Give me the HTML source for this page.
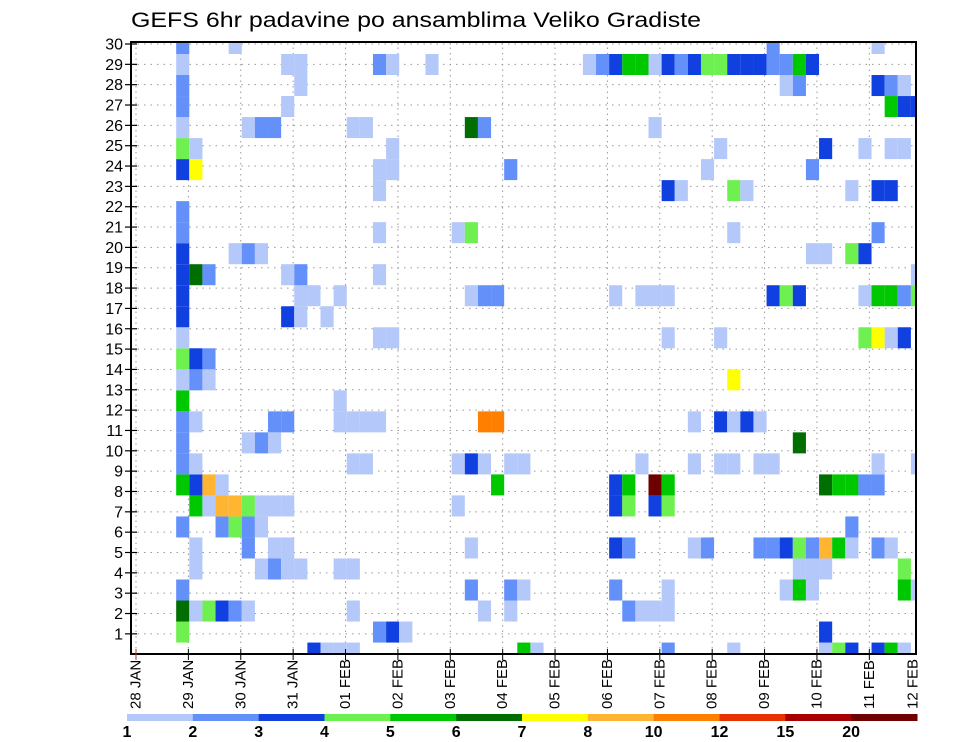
<!DOCTYPE html>
<html><head><meta charset="utf-8"><style>
html,body{margin:0;padding:0;background:#fff;}
svg{display:block;font-family:"Liberation Sans",sans-serif;}
</style></head><body>
<svg id="chart" width="960" height="742" viewBox="0 0 960 742" xmlns="http://www.w3.org/2000/svg">
<text x="131" y="27" font-size="21" textLength="570" lengthAdjust="spacingAndGlyphs">GEFS 6hr padavine po ansamblima Veliko Gradiste</text>
<g id="grid"></g>
<g id="cells"></g>
<rect x="131" y="42" width="785" height="612" fill="none" stroke="#000" stroke-width="2"/>
<g id="yaxis"></g>
<g id="xaxis"></g>
<g id="cbar"></g>
</svg>
<script>
// ---- data ----
const dayLabels = ["28 JAN","29 JAN","30 JAN","31 JAN","01 FEB","02 FEB","03 FEB","04 FEB","05 FEB","06 FEB","07 FEB","08 FEB","09 FEB","10 FEB","11 FEB"];
const lastLabel = "12 FEB";
const memberLabels = [1,2,3,4,5,6,7,8,9,10,11,12,13,14,15,16,17,18,19,20,21,22,23,24,25,26,27,28,29,30];
const levels = [1,2,3,4,5,6,7,8,10,12,15,20];
const levelColors = ["#b4c8fa","#6490fa","#1040e0","#6ef050","#00c800","#006e00","#ffff00","#ffb432","#ff8000","#e83000","#a80000","#6e0000"];
const codeValues = {a:1.5,b:2.5,c:3.5,d:4.5,e:5.5,f:6.5,g:7.5,h:9,i:11,j:25};
// member -> "column+code" entries (column = 6-hour step from 28 JAN 00Z)
const precip = {
30:"3b 7a 48b 56a",
29:"3a 11a 12a 18b 19a 22a 34a 35b 36c 37e 38e 39a 40c 41b 42c 43d 44d 45c 46c 47c 48b 49b 50e 51c",
28:"3b 12a 49a 50b 56c 57b 58a",
27:"3b 11a 57e 58c 59c",
26:"3a 8a 9b 10b 16a 17a 25f 26b 39a",
25:"3d 4a 19a 44a 52c 55a 57a 58a",
24:"3c 4g 18a 19a 28b 43a 51b",
23:"18a 40c 41a 45d 46a 54a 56c 57c",
22:"3b",
21:"3b 18a 24a 25d 45a 56b",
20:"3c 7a 8b 9a 51a 52a 54d 55c",
19:"3c 4f 5b 11a 12b 18a 59a",
18:"3c 12a 13a 15a 25a 26b 27b 36a 38a 39a 40a 48c 49d 50c 55a 56e 57e 58b 59d",
17:"3c 11c 12a 14a",
16:"3a 18a 19a 40a 44a 55d 56g 57a 58c",
15:"3d 4c 5b",
14:"3a 4b 5a 45g",
13:"3e 15a",
12:"3b 4a 10b 11b 15a 16a 17a 18a 26i 27i 42a 44c 45a 46c 47a",
11:"3b 8a 9b 10a 50f",
10:"3b 4a 16a 17a 24a 25c 26a 28a 29a 38a 42a 44a 45a 47a 48a 56a 59a",
9:"3e 4c 5h 6a 27e 36c 37e 39j 40e 52f 53e 54e 55b 56b",
8:"4e 5a 6h 7h 8d 9a 10a 11a 24a 36c 37d 39c 40d",
7:"3b 6b 7d 8b 9a 54b",
6:"4a 8b 10a 11a 25a 36c 37b 42a 43b 47b 48b 49c 50d 51b 52h 53e 54a 56b 57a",
5:"4a 9a 10b 11a 12a 15a 16a 50a 51a 52a 58d",
4:"3b 25b 28b 29a 36b 40a 49a 50e 51a 58e 59a",
3:"3f 4a 5d 6c 7b 8a 16a 26a 28a 37b 38a 39a 40a",
2:"3d 18b 19c 20a 52c",
1:"13c 14a 15a 16a 29e 30a 40b 45a 52a 53d 54c 56c 57e 58a"
};
// ---- layout ----
const NS="http://www.w3.org/2000/svg";
const PL=131, PR=916, PT=42, PB=654;
function xDay(d){return 136 + d*52.38;}
function xCol(c){return 189.3 + (c-4)*13.12;}
const colW=13.12, rowH=21.02;
function yCellTop(m){return 54 + (29-m)*rowH;}
function yLabel(m){return 44 + (30-m)*20.34;}
function colorFor(v){let k=0;for(let i=0;i<levels.length;i++){if(v>=levels[i])k=i;}return levelColors[k];}
function mk(tag,attrs,parent){const e=document.createElementNS(NS,tag);for(const k in attrs)e.setAttribute(k,attrs[k]);parent.appendChild(e);return e;}

const grid=document.getElementById('grid');
memberLabels.forEach(m=>{
  const l=mk('line',{x1:PL,x2:PR,y1:yLabel(m),y2:yLabel(m),stroke:'#999','stroke-width':1,'stroke-dasharray':'1.5 5'},grid);
  
  
});
dayLabels.forEach((d,i)=>{
  const l=mk('line',{x1:xDay(i),x2:xDay(i),y1:PT,y2:PB,stroke:'#999','stroke-width':1,'stroke-dasharray':'1.5 4'},grid);
  
  
});

const cells=document.getElementById('cells');
Object.keys(precip).forEach(mk_=>{
  const m=+mk_;
  precip[mk_].split(' ').forEach(tok=>{
    const c=parseInt(tok,10), code=tok.replace(/[0-9]/g,'');
    const v=codeValues[code];
    let x0=xCol(c), x1=x0+colW, y0=yCellTop(m), y1=y0+rowH;
    x0=Math.max(x0,PL);x1=Math.min(x1,PR);y0=Math.max(y0,PT);y1=Math.min(y1,PB);
    if(x1<=x0||y1<=y0)return;
    const r=mk('rect',{x:x0.toFixed(2),y:y0.toFixed(2),width:(x1-x0).toFixed(2),height:(y1-y0).toFixed(2),fill:colorFor(v)},cells);
    
    
  });
});

const ya=document.getElementById('yaxis');
memberLabels.forEach(m=>{
  const t=mk('line',{x1:125,x2:137,y1:yLabel(m),y2:yLabel(m),stroke:'#000','stroke-width':1.2},ya);
  
  
  const tx=mk('text',{x:123,y:yLabel(m)+5.5,'font-size':16,'text-anchor':'end'},ya);
  tx.textContent=m;
  
  
});

const xa=document.getElementById('xaxis');
dayLabels.forEach((d,i)=>{
  const x=xDay(i);
  const t=mk('line',{x1:x,x2:x,y1:PB-5,y2:PB+6,stroke:i===0?'#c03030':'#000','stroke-width':1},xa);
  
  
  const tx=mk('text',{transform:`translate(${x.toFixed(1)},709) rotate(-90)`,'font-size':15,'dominant-baseline':'central'},xa);
  tx.textContent=d;
  
  
});
const lt=mk('text',{transform:'translate(913,709) rotate(-90)','font-size':15,'dominant-baseline':'central'},xa);
lt.textContent=lastLabel;



const cb=document.getElementById('cbar');
const cbL=127, cbR=917, segW=(cbR-cbL)/levels.length;
levels.forEach((lv,i)=>{
  const r=mk('rect',{x:(cbL+i*segW).toFixed(2),y:714,width:(segW+0.5).toFixed(2),height:7,fill:levelColors[i]},cb);
  
  
  const t=mk('text',{x:(cbL+i*segW).toFixed(2),y:737,'font-size':16,'font-weight':'bold','text-anchor':'middle'},cb);
  t.textContent=lv;
  
  
});
</script>
</body></html>
